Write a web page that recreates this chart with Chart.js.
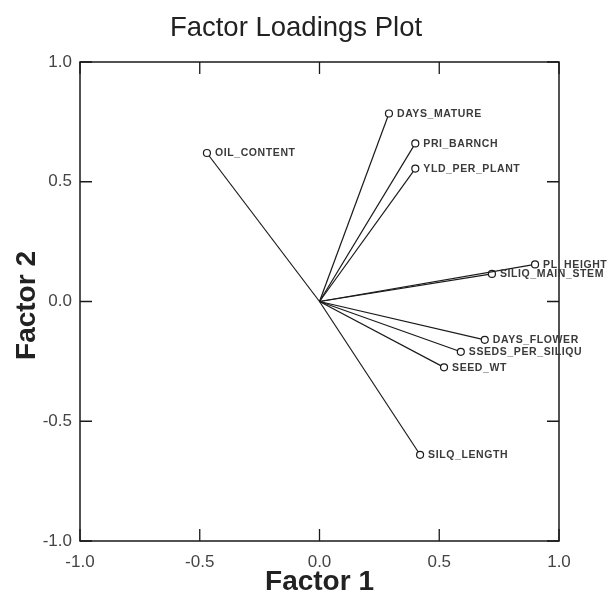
<!DOCTYPE html>
<html>
<head>
<meta charset="utf-8">
<script src="https://cdn.jsdelivr.net/npm/chart.js@4.4.1/dist/chart.umd.min.js"></script>
<style>
  html, body { margin: 0; padding: 0; background: #ffffff; }
  #wrap { width: 610px; height: 598px; position: relative; }
</style>
</head>
<body>
<div id="wrap"><canvas id="c" width="610" height="598"></canvas></div>
<script>
// ---- data ----
const variables = ["DAYS_MATURE", "PRI_BARNCH", "YLD_PER_PLANT", "OIL_CONTENT", "PL_HEIGHT",
                   "SILIQ_MAIN_STEM", "DAYS_FLOWER", "SSEDS_PER_SILIQU", "SEED_WT", "SILQ_LENGTH"];
const factor1 = [0.29, 0.40, 0.40, -0.47, 0.90, 0.72, 0.69, 0.59, 0.52, 0.42];
const factor2 = [0.785, 0.66, 0.555, 0.62, 0.155, 0.115, -0.16, -0.21, -0.275, -0.64];
const tickValues = [-1.0, -0.5, 0.0, 0.5, 1.0];
const chartTitle = "Factor Loadings Plot";
const xTitle = "Factor 1";
const yTitle = "Factor 2";

const datasets = variables.map((name, i) => ({
  label: name,
  data: [{x: 0, y: 0}, {x: factor1[i], y: factor2[i]}],
  showLine: true,
  borderColor: '#1a1a1a',
  borderWidth: 1.2,
  pointRadius: [0, 3.5],
  pointBorderWidth: 1.2,
  pointBorderColor: '#1a1a1a',
  pointBackgroundColor: '#ffffff',
}));

const decorPlugin = {
  id: 'decor',
  afterDatasetsDraw(chart) {
    const ctx = chart.ctx;
    const xs = chart.scales.x, ys = chart.scales.y;
    const a = chart.chartArea;
    ctx.save();
    // frame
    ctx.strokeStyle = '#1a1a1a';
    ctx.lineWidth = 1.5;
    ctx.strokeRect(a.left, a.top, a.right - a.left, a.bottom - a.top);
    // inward tick marks on all four sides
    ctx.lineWidth = 1.3;
    const tl = 12;
    tickValues.forEach(v => {
      const px = xs.getPixelForValue(v);
      const py = ys.getPixelForValue(v);
      ctx.beginPath();
      ctx.moveTo(px, a.bottom); ctx.lineTo(px, a.bottom - tl);
      ctx.moveTo(px, a.top); ctx.lineTo(px, a.top + tl);
      ctx.moveTo(a.left, py); ctx.lineTo(a.left + tl, py);
      ctx.moveTo(a.right, py); ctx.lineTo(a.right - tl, py);
      ctx.stroke();
    });
    // variable labels
    ctx.fillStyle = '#3a3a3a';
    ctx.font = 'bold 10.5px "Liberation Sans", Arial, sans-serif';
    try { ctx.letterSpacing = '0.6px'; } catch (e) {}
    ctx.textAlign = 'left';
    ctx.textBaseline = 'middle';
    variables.forEach((name, i) => {
      const px = xs.getPixelForValue(factor1[i]);
      const py = ys.getPixelForValue(factor2[i]);
      ctx.fillText(name, px + 8, py + 0.5);
    });
    try { ctx.letterSpacing = '0px'; } catch (e) {}
    // titles
    ctx.fillStyle = '#222222';
    ctx.textAlign = 'center';
    ctx.textBaseline = 'alphabetic';
    ctx.font = '27.5px "Liberation Sans", Arial, sans-serif';
    ctx.fillText(chartTitle, 296, 36);
    ctx.textBaseline = 'middle';
    ctx.font = 'bold 28px "Liberation Sans", Arial, sans-serif';
    ctx.fillText(xTitle, (a.left + a.right) / 2, 582);
    ctx.save();
    ctx.translate(27, (a.top + a.bottom) / 2 + 4);
    ctx.rotate(-Math.PI / 2);
    ctx.fillText(yTitle, 0, 0);
    ctx.restore();
    ctx.restore();
  }
};

new Chart(document.getElementById('c'), {
  type: 'scatter',
  data: { datasets },
  options: {
    responsive: false,
    animation: false,
    devicePixelRatio: 1,
    layout: { padding: { left: 0, top: 62, right: 51, bottom: 0 } },
    plugins: { legend: { display: false }, tooltip: { enabled: false }, title: { display: false } },
    scales: {
      x: {
        type: 'linear', min: -1, max: 1,
        afterFit(s) { s.height = 57; },
        afterBuildTicks(s) { s.ticks = tickValues.map(v => ({ value: v })); },
        grid: { display: false, drawTicks: false },
        border: { display: false },
        ticks: {
          color: '#444444', padding: 11,
          font: { family: '"Liberation Sans", Arial, sans-serif', size: 17 },
          callback: v => Number(v).toFixed(1)
        }
      },
      y: {
        type: 'linear', min: -1, max: 1,
        afterFit(s) { s.width = 80; },
        afterBuildTicks(s) { s.ticks = tickValues.map(v => ({ value: v })); },
        grid: { display: false, drawTicks: false },
        border: { display: false },
        ticks: {
          color: '#444444', padding: 8,
          font: { family: '"Liberation Sans", Arial, sans-serif', size: 17 },
          callback: v => Number(v).toFixed(1)
        }
      }
    }
  },
  plugins: [decorPlugin]
});
</script>
</body>
</html>
